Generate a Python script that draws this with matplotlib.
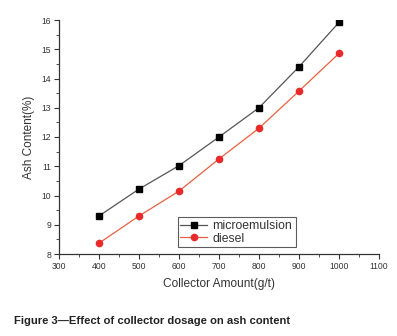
import matplotlib.pyplot as plt
from matplotlib.ticker import MultipleLocator

plt.rcParams['font.family'] = ['Liberation Sans', 'DejaVu Sans']

dosage = [400, 500, 600, 700, 800, 900, 1000]
microemulsion = [9.3, 10.22, 11.02, 12.0, 13.0, 14.4, 15.92]
diesel = [8.37, 9.3, 10.15, 11.25, 12.3, 13.57, 14.86]

fig = plt.figure(figsize=(3.97, 3.36), dpi=100)
ax = fig.add_axes([59 / 397, 1 - 254 / 336, 320 / 397, 234 / 336])

ax.plot(dosage, microemulsion, color='#555555', lw=0.9, marker='s', ms=4,
        mfc='black', mec='black', label='microemulsion')
ax.plot(dosage, diesel, color='#e8603f', lw=0.9, marker='o', ms=4.5,
        mfc='#e82a2a', mec='#e82a2a', label='diesel')

ax.set_xlim(300, 1100)
ax.set_ylim(8, 16)
ax.xaxis.set_major_locator(MultipleLocator(100))
ax.xaxis.set_minor_locator(MultipleLocator(50))
ax.yaxis.set_major_locator(MultipleLocator(1))
ax.yaxis.set_minor_locator(MultipleLocator(0.5))
ax.tick_params(which='major', direction='out', length=3.5, width=0.8,
               labelsize=6.2, color='#333333', labelcolor='#333333', pad=2)
ax.tick_params(which='minor', direction='out', length=2, width=0.6, color='#333333')
for s in ['top', 'right']:
    ax.spines[s].set_visible(False)
for s in ['left', 'bottom']:
    ax.spines[s].set_color('#333333')
    ax.spines[s].set_linewidth(0.9)

ax.set_xlabel('Collector Amount(g/t)', fontsize=8.6, color='#333333', labelpad=5)
ax.set_ylabel('Ash Content(%)', fontsize=8.5, color='#333333', labelpad=5)

leg = ax.legend(loc='lower left', bbox_to_anchor=(0.372, 0.03, 0.369, 0.132),
                mode='expand', fontsize=8.8, frameon=True, fancybox=False,
                edgecolor='#333333', handlelength=2.2, borderpad=0.2,
                labelspacing=0.05, handletextpad=0.4, borderaxespad=0)
leg.get_frame().set_linewidth(0.8)
for t in leg.get_texts():
    t.set_color('#333333')

fig.text(14 / 397, 1 - 321 / 336, 'Figure 3\u2014Effect of collector dosage on ash content',
         fontsize=8.1, fontweight='bold', color='#222222', va='center', ha='left')

fig.savefig('out.png', dpi=100)
plt.close(fig)
